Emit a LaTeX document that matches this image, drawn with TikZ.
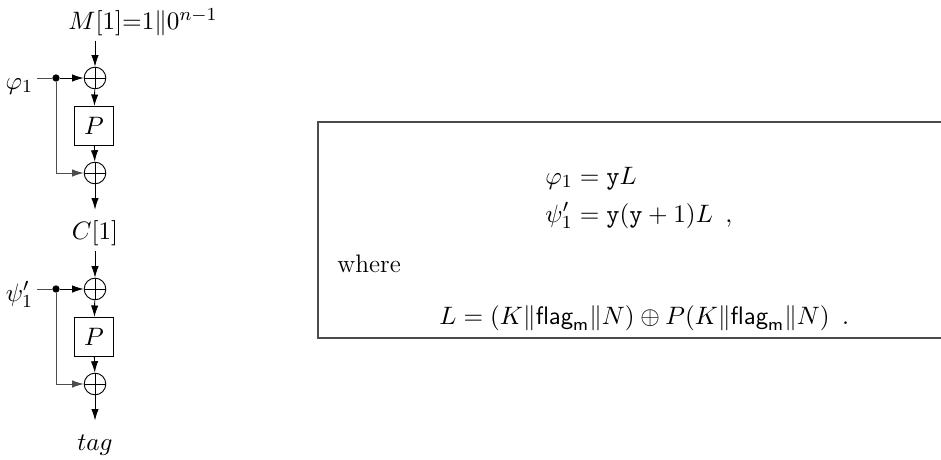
\documentclass[tikz,border=0pt]{standalone}
\usepackage{amsmath}
\usetikzlibrary{arrows.meta}
\begin{document}
\begin{tikzpicture}[x=0.4348pt,y=-0.4348pt,
  line width=0.4pt,
  every node/.append style={font=\fontsize{11}{13}\selectfont},
  arr/.style={-{Latex[length=5pt,width=3.2pt]}},
  xorop/.style={circle,draw,minimum size=9.4pt,inner sep=0pt,
    path picture={\draw (path picture bounding box.north) -- (path picture bounding box.south)
      (path picture bounding box.west) -- (path picture bounding box.east);}},
  perm/.style={draw,minimum size=17pt,inner sep=0pt},
  dotnode/.style={circle,fill,inner sep=0pt,minimum size=3.2pt},
  lab/.style={inner sep=0pt},
  sidelab/.style={inner sep=1.5pt,anchor=base east},
  fb/.style={draw=black!70},
  boxline/.style={draw=black!70,line width=0.6pt}]
\useasboundingbox (0,0) rectangle (941,460);

% ---- upper chain ----
\node[lab,anchor=base west] (m) at (68,30) {$M[1]{=}1\|0^{n-1}$};
\node[xorop] (x1) at (95,78) {};
\node[perm] (p1) at (94,126) {$P$};
\node[xorop] (x2) at (95,173) {};
\node[lab] (c) at (95,233) {$C[1]$};
\node[sidelab] (phi) at (37,89) {$\varphi_1$};
\node[dotnode] (d1) at (56,78) {};

\draw[arr,shorten <=2pt] (m.south -| x1.north) -- (x1);
\draw[fb] (phi.east |- d1) -- (d1);
\draw[arr] (d1) -- (x1);
\draw[arr] (x1) -- (p1);
\draw[arr] (p1) -- (x2);
\draw[arr,fb] (d1) |- (x2);
\draw[arr,shorten >=4.5pt] (x2) -- (c);

% ---- lower chain ----
\node[xorop] (x3) at (95,289) {};
\node[perm] (p2) at (94,337) {$P$};
\node[xorop] (x4) at (95,384) {};
\node[lab] (t) at (95,445) {$tag$};
\node[sidelab] (psi) at (37,301) {$\psi'_1$};
\node[dotnode] (d2) at (56,289) {};

\draw[arr,shorten <=2.2pt] (c) -- (x3);
\draw[fb] (psi.east |- d2) -- (d2);
\draw[arr] (d2) -- (x3);
\draw[arr] (x3) -- (p2);
\draw[arr] (p2) -- (x4);
\draw[arr,fb] (d2) |- (x4);
\draw[arr,shorten >=6pt] (x4) -- (t);

% ---- definition box ----
\draw[boxline] (941,122) -- (318,122) -- (318,338) -- (941,338);
\node[lab,anchor=base west] (e1) at (545,184) {$\varphi_1 = \mathtt{y}L$};
\node[lab,anchor=base west] (e2) at (545,222) {$\psi'_1 = \mathtt{y}(\mathtt{y}+1)L\ \,,$};
\node[lab,anchor=base west] (wh) at (337,272) {where};
\node[lab,anchor=base west] (e3) at (439,324)
  {$L = (K\|\textsf{flag}_\textsf{m}\|N) \oplus P(K\|\textsf{flag}_\textsf{m}\|N)\ \,.$};
\end{tikzpicture}
\end{document}
